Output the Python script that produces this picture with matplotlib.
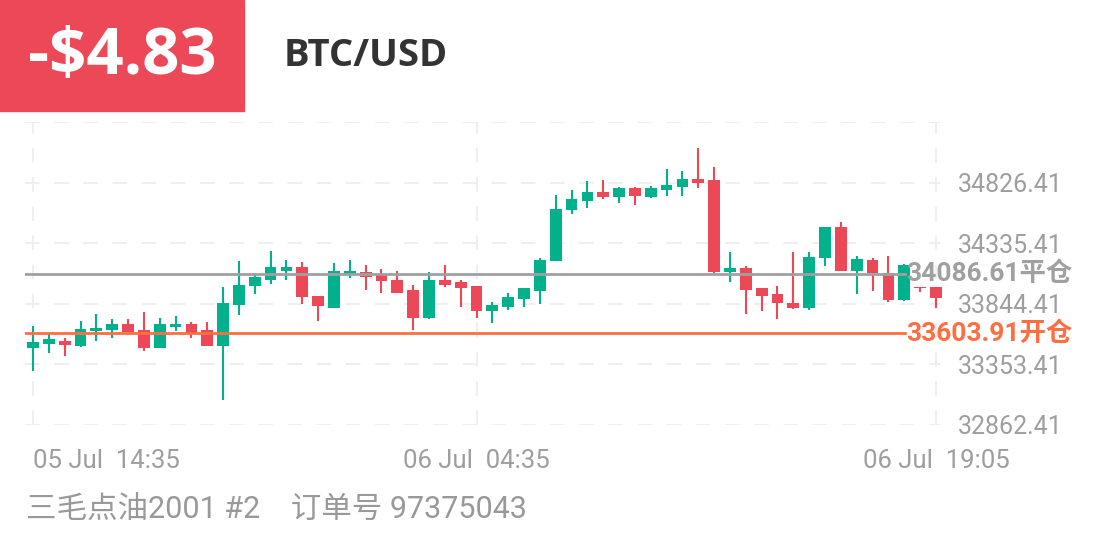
import matplotlib
matplotlib.use("Agg")
import matplotlib.pyplot as plt
import numpy as np

plt.rcParams['font.family'] = ['Roboto', 'Noto Sans CJK SC', 'DejaVu Sans']

# ====== 資料 ======
# 30 分鐘 K 線, 05 Jul 14:35 ~ 06 Jul 19:05
opens = [33488, 33521, 33547, 33501, 33628, 33634, 33682, 33634, 33488, 33655,
         33677, 33634, 33505, 33838, 33986, 34040, 34113, 34145, 33911, 33812,
         34086, 34099, 34078, 34038, 33959, 33728, 34040, 34018, 33992, 33784,
         33816, 33884, 33951, 34188, 34603, 34679, 34754, 34713, 34786, 34713,
         34765, 34792, 34854, 34848, 34105, 34132, 33970, 33925, 33852, 33808,
         34212, 34468, 34107, 34202, 34091, 33879, 33978, 33978]
highs = [33663, 33606, 33569, 33701, 33763, 33723, 33723, 33776, 33731, 33749,
         33695, 33695, 33984, 34194, 34094, 34275, 34199, 34180, 33911, 34175,
         34202, 34159, 34127, 34113, 33997, 34099, 34161, 34038, 33992, 33857,
         33933, 33973, 34216, 34727, 34767, 34840, 34846, 34792, 34794, 34800,
         34940, 34921, 35109, 34956, 34261, 34148, 33973, 33992, 34261, 34261,
         34468, 34509, 34234, 34212, 34234, 34167, 33978, 33978]
lows = [33297, 33448, 33420, 33493, 33542, 33569, 33614, 33461, 33488, 33628,
        33569, 33499, 33068, 33755, 33925, 34005, 34038, 33844, 33709, 33812,
        34054, 33957, 33930, 33933, 33634, 33723, 33978, 33822, 33731, 33690,
        33798, 33816, 33844, 34188, 34571, 34624, 34692, 34665, 34644, 34700,
        34719, 34719, 34781, 34091, 34018, 33763, 33784, 33723, 33803, 33795,
        34153, 34107, 33925, 33946, 33857, 33871, 33938, 33812]
closes = [33534, 33561, 33507, 33642, 33650, 33682, 33614, 33488, 33682, 33682,
          33606, 33501, 33849, 34000, 34059, 34145, 34145, 33897, 33830, 34113,
          34113, 34059, 34026, 33933, 33728, 34040, 34000, 33973, 33784, 33838,
          33903, 33973, 34202, 34616, 34697, 34754, 34711, 34781, 34719, 34786,
          34808, 34854, 34826, 34099, 34132, 33957, 33911, 33852, 33812, 34226,
          34468, 34107, 34207, 34091, 33879, 34161, 33970, 33892]

y_ticks = [32862.41, 33353.41, 33844.41, 34335.41, 34826.41, 35317.41]
y_tick_labels = ['32862.41', '33353.41', '33844.41', '34335.41', '34826.41', '']
x_ticks = [0, 28, 57]
x_tick_labels = ['05 Jul  14:35', '06 Jul  04:35', '06 Jul  19:05']

close_price = 34086.61   # 平仓
open_price = 33603.91    # 开仓
profit_str = '-$4.83'
symbol = 'BTC/USD'
footer_str = '三毛点油2001 #2    订单号 97375043'

# ====== 顏色 ======
UP = '#00B18B'
DOWN = '#EC4858'
GRID = '#EFEFEF'
GRAY = '#A0A0A0'
ORANGE = '#FF6E40'

W, H = 1108, 554
fig = plt.figure(figsize=(W / 100, H / 100), dpi=100)

# 頂部紅框
fig.patches.append(plt.Rectangle((0, 1 - 111 / H), 244 / W, 111 / H,
                                 transform=fig.transFigure, color=DOWN, zorder=0))
fig.text(122 / W, 1 - 57 / H, profit_str, color='white', fontsize=47,
         fontweight='bold', family=['Open Sans'], ha='center', va='center')
fig.text(284 / W, 1 - 56 / H, symbol, color='#333333', fontsize=27.5,
         fontweight='bold', family=['Open Sans'], ha='left', va='center')

# ====== K 線圖 ======
ax = fig.add_axes([25 / W, (H - 425) / H, 915 / W, 303 / H])
x = np.arange(len(opens))
o = np.array(opens, dtype=float)
c = np.array(closes, dtype=float)
colors = [UP if cc >= oo else DOWN for oo, cc in zip(o, c)]
body_bottom = np.minimum(o, c)
body_height = np.maximum(np.abs(c - o), 8)
ax.vlines(x, lows, highs, color=colors, linewidth=1.5, zorder=3, clip_on=False)
ax.bar(x, body_height, bottom=body_bottom, width=0.74, color=colors,
       zorder=4, clip_on=False)

ax.set_xlim(-0.505, 57.26)
ax.set_ylim(y_ticks[0], y_ticks[-1])

# 網格
for yv in y_ticks:
    ax.axhline(yv, color=GRID, linewidth=1.5, dashes=(7, 7), zorder=1)
for xv in x_ticks:
    ax.axvline(xv, color=GRID, linewidth=1.5, dashes=(7, 7), zorder=1)

# 開平倉線
ax.axhline(close_price, xmin=0, xmax=0.962, color=GRAY, linewidth=2, zorder=5)
ax.axhline(open_price, xmin=0, xmax=0.962, color=ORANGE, linewidth=2, zorder=5)
ax.text(0.963, close_price, f'{close_price:.2f}平仓', transform=ax.get_yaxis_transform(),
        color=GRAY, fontsize=19, fontweight='bold', ha='left', va='center',
        zorder=6, clip_on=False)
ax.text(0.963, open_price, f'{open_price:.2f}开仓', transform=ax.get_yaxis_transform(),
        color=ORANGE, fontsize=19, fontweight='bold', ha='left', va='center',
        zorder=6, clip_on=False)

# 座標軸
for s in ax.spines.values():
    s.set_visible(False)
ax.yaxis.tick_right()
ax.set_yticks(y_ticks)
ax.set_yticklabels(y_tick_labels)
ax.tick_params(axis='y', length=0, pad=13, labelsize=18, labelcolor='#9E9E9E')
ax.set_xticks(x_ticks)
ax.set_xticklabels(x_tick_labels)
ax.tick_params(axis='x', length=0, pad=26, labelsize=18.5, labelcolor='#9E9E9E')
for t in ax.get_xticklabels():
    t.set_va('center')
ax.get_xticklabels()[0].set_ha('left')

fig.text(26 / W, 1 - 510 / H, footer_str, color='#999999', fontsize=22,
         ha='left', va='center')

fig.savefig('out.png', dpi=100)
